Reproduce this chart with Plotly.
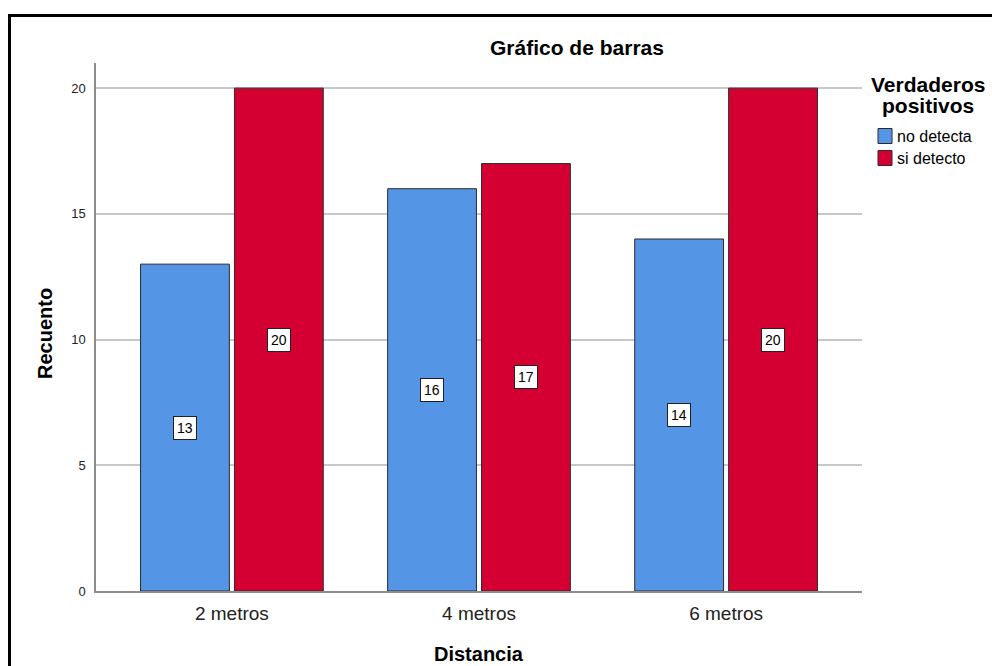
import plotly.graph_objects as go

# Counts of detections by distance
distancias = ["2 metros", "4 metros", "6 metros"]
no_detecta = [13, 16, 14]
si_detecto = [20, 17, 20]
series_names = ["no detecta", "si detecto"]
colors = ["#5595E5", "#D50032"]

FONT = "Liberation Sans, Arial, sans-serif"

# Plot-area geometry in pixels
W, H = 992, 666
L, R, T, B = 96, 130, 63, 75
pw, ph = W - L - R, H - T - B

bargap = 0.24
bargroupgap = 0.054

fig = go.Figure()
for name, vals, col in zip(series_names, [no_detecta, si_detecto], colors):
    fig.add_trace(go.Bar(
        x=list(range(len(distancias))), y=vals, name=name,
        marker=dict(color=col, line=dict(color="#2b2b2b", width=1)),
        showlegend=False,
    ))

# Value labels centred in each bar
slot = (1 - bargap) / 2
for k, vals in enumerate([no_detecta, si_detecto]):
    off = (k - 0.5) * slot
    for i, v in enumerate(vals):
        fig.add_annotation(
            x=i + off, y=v / 2, text=str(v), showarrow=False,
            xanchor="center", yanchor="middle",
            font=dict(family=FONT, size=14, color="#000"),
            bgcolor="white", bordercolor="#222", borderwidth=1, borderpad=3,
        )

def px_x(p):
    return (p - L) / pw

def px_y(q):
    return (H - B - q) / ph

def label(xp, yp, text, size, angle=0):
    fig.add_annotation(x=px_x(xp), y=px_y(yp), xref="paper", yref="paper",
                       text=text, showarrow=False, textangle=angle,
                       xanchor="center", yanchor="middle",
                       font=dict(family=FONT, size=size, color="#000"))

# Title, axis titles
label(577, 47, "<b>Gráfico de barras</b>", 21)
label(479, 654, "<b>Distancia</b>", 20)
label(45, 334, "<b>Recuento</b>", 20, angle=-90)

# Legend: title, swatches and entries
label(928, 85, "<b>Verdaderos</b>", 21)
label(928, 105, "<b>positivos</b>", 21)
for j, (name, col) in enumerate(zip(series_names, colors)):
    yc = 136 + j * 22
    fig.add_shape(type="rect", xref="paper", yref="paper",
                  x0=px_x(878), x1=px_x(892), y0=px_y(yc - 7.5), y1=px_y(yc + 7.5),
                  fillcolor=col, line=dict(color="#2b2b2b", width=1))
    fig.add_annotation(x=px_x(895), y=px_y(yc), xref="paper", yref="paper",
                       text=name, showarrow=False, xanchor="left", yanchor="middle",
                       font=dict(family=FONT, size=16, color="#000"))

# Outer frame
fig.add_shape(type="rect", xref="paper", yref="paper",
              x0=px_x(9.5), x1=px_x(1010), y0=px_y(15.5), y1=px_y(700),
              line=dict(color="#000", width=3), layer="above")

fig.update_layout(
    width=W, height=H,
    margin=dict(l=L, r=R, t=T, b=B),
    paper_bgcolor="white", plot_bgcolor="white",
    barmode="group", bargap=bargap, bargroupgap=bargroupgap,
    showlegend=False,
    xaxis=dict(
        range=[-0.55, 2.55], tickmode="array",
        tickvals=list(range(len(distancias))), ticktext=distancias,
        showgrid=False, showline=True, linecolor="#8c8c8c", linewidth=1.5,
        ticks="", tickfont=dict(family=FONT, size=19, color="#222"),
        zeroline=False, ticklabelstandoff=4,
    ),
    yaxis=dict(
        range=[0, 21], tickvals=[0, 5, 10, 15, 20],
        showgrid=True, gridcolor="#c8c8c8", gridwidth=1.5,
        showline=True, linecolor="#8c8c8c", linewidth=1.5,
        ticks="", tickfont=dict(family=FONT, size=13, color="#222"),
        zeroline=False, ticklabelstandoff=6,
    ),
)

fig.write_html("out.html")
